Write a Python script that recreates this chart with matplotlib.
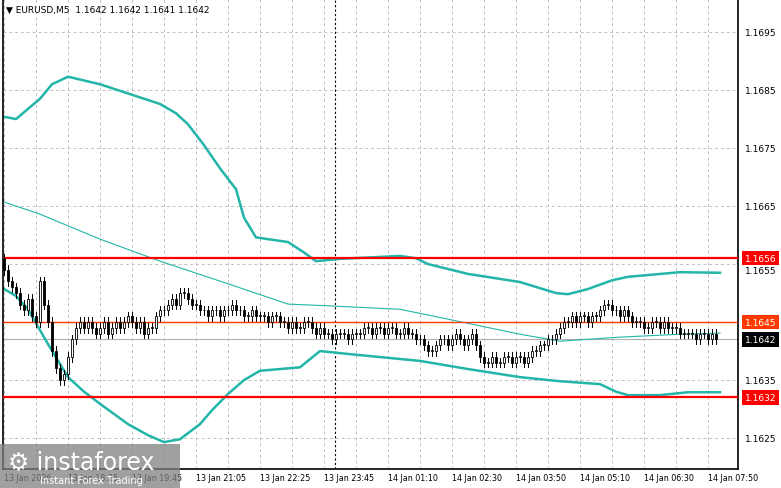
import matplotlib.pyplot as plt
from matplotlib.patches import Rectangle

# closes in pips above 1.1600, one per 5-minute bar (13 Jan 17:05 onward)
closes = [54, 52, 51,
          50, 48, 47, 49, 46, 45, 52,
          48, 45, 40, 37, 35, 36,
          39, 42, 44, 45,
          44, 45, 44, 43, 44, 45, 43, 44, 45, 44, 45, 46,
          45, 44, 45, 43, 44, 44,
          46, 47, 47, 48, 49, 48, 50, 50,
          49, 48, 48, 47, 47, 46, 47,
          47, 46, 47, 47, 48, 47, 47, 46, 46, 47, 46, 46,
          46, 45, 46, 46, 45, 45, 44, 45, 44, 44,
          45, 45, 44, 43, 44, 43, 43, 42,
          43, 43, 43, 42, 43, 43, 43,
          44, 44, 43, 44, 44, 43, 44, 44, 43, 43, 44, 43, 43, 42, 42,
          41, 40, 40, 41, 42,
          42, 41, 42, 43, 42, 41, 42, 43, 41,
          39, 38, 38, 39, 38, 38,
          39, 39, 38, 39, 39, 38, 39, 40, 40,
          41, 41, 42, 42, 43, 44,
          45, 45, 46, 45, 46, 46, 45, 46, 46,
          47, 48, 48, 47, 47, 46, 47, 46, 45,
          45, 45, 44, 44, 45, 45, 44, 45,
          44, 44, 44, 43, 43,
          43, 43, 42, 43, 43, 42, 43, 42]
first_open = 56

upper_idx = [0, 3, 9, 12, 16, 24, 39, 43, 46, 50, 54, 58, 60, 63, 71, 75, 78, 84, 99, 103, 106, 116,
             129, 138, 141, 146, 152, 156, 169, 179]
upper_val = [1.16804, 1.16800, 1.16835, 1.16860, 1.16873, 1.16860, 1.16826, 1.16810, 1.16791, 1.16755,
             1.16715, 1.16679, 1.16630, 1.16596, 1.16588, 1.16570, 1.16555, 1.16559, 1.16564, 1.16560,
             1.16550, 1.16533, 1.16519, 1.16500, 1.16498, 1.16507, 1.16522, 1.16528, 1.16536, 1.16535]
mid_idx = [0, 9, 24, 39, 56, 71, 81, 99, 111, 129, 139, 154, 169, 179]
mid_val = [1.16657, 1.16636, 1.16593, 1.16555, 1.16516, 1.16481, 1.16478, 1.16472, 1.16455,
           1.16429, 1.16417, 1.16424, 1.16429, 1.16431]
lower_idx = [0, 3, 6, 11, 16, 20, 24, 31, 36, 40, 44, 49, 52, 56, 60, 64, 74, 79, 86, 104, 116, 129,
             139, 149, 153, 156, 164, 171, 179]
lower_val = [1.16507, 1.16495, 1.16472, 1.16412, 1.16355, 1.16330, 1.16309, 1.16274, 1.16255, 1.16243,
             1.16248, 1.16274, 1.16298, 1.16326, 1.16350, 1.16366, 1.16372, 1.16400, 1.16395, 1.16383,
             1.16369, 1.16355, 1.16348, 1.16343, 1.16330, 1.16324, 1.16324, 1.16329, 1.16329]

level_lines = [(1.1656, '#ff0000', 1.6), (1.1645, '#ff3a00', 1.0), (1.1632, '#ff0000', 1.6)]
price_ticks = [1.1625, 1.1635, 1.1645, 1.1655, 1.1665, 1.1675, 1.1685, 1.1695]
time_ticks = [0, 16, 32, 48, 64, 80, 96, 112, 128, 144, 160, 176]
time_labels = ['13 Jan 2026', '13 Jan 18:25', '13 Jan 19:45', '13 Jan 21:05', '13 Jan 22:25',
               '13 Jan 23:45', '14 Jan 01:10', '14 Jan 02:30', '14 Jan 03:50', '14 Jan 05:10',
               '14 Jan 06:30', '14 Jan 07:50']

W, H = 781, 489
fig = plt.figure(figsize=(W / 100, H / 100), dpi=100)
ax = fig.add_axes([3 / W, 1 - 470 / H, 735 / W, 470 / H])
ymax = 1.17007
ymin = ymax - 470 / 58000
ax.set_ylim(ymin, ymax)
ax.set_xlim(-0.25, 183.5)

for g in range(0, 184, 8):
    ax.axvline(g, color='#c0c0c0', ls=(0, (3, 3)), lw=0.7, zorder=0)
for p in price_ticks:
    ax.axhline(p, color='#c0c0c0', ls=(0, (3, 3)), lw=0.7, zorder=0)

ax.axvline(82.8, color='black', ls=(0, (2, 2)), lw=0.8, zorder=1)

teal = '#22b5a8'
ax.plot(upper_idx, upper_val, color=teal, lw=1.8, zorder=2)
ax.plot(lower_idx, lower_val, color=teal, lw=1.8, zorder=2)
ax.plot(mid_idx, mid_val, color=teal, lw=0.8, zorder=2)

for p, c, lw in level_lines:
    ax.axhline(p, color=c, lw=lw, zorder=3)
ax.axhline(1.1642, color='#b0b0b0', lw=0.8, zorder=1)

prev = first_open
for i, c in enumerate(closes):
    o = 1.16 + prev / 1e4
    cl = 1.16 + c / 1e4
    lo, hi = min(o, cl) - 0.00008, max(o, cl) + 0.00008
    ax.plot([i, i], [lo, hi], color='black', lw=0.7, zorder=4)
    body = max(abs(cl - o), 0.000015)
    face = 'white' if cl >= o else 'black'
    ax.add_patch(Rectangle((i - 0.35, min(o, cl)), 0.7, body, facecolor=face,
                           edgecolor='black', lw=0.6, zorder=5))
    prev = c

ax.set_xticks([])
ax.set_yticks([])
for s in ['top', 'right']:
    ax.spines[s].set_visible(False)
for s in ['left', 'bottom']:
    ax.spines[s].set_color('black')
    ax.spines[s].set_linewidth(1.2)
ax.axvline(183.5, color='black', lw=1.2, clip_on=False)

def fy(p):
    return 1 - (ymax - p) * 58000 / H

for p in price_ticks:
    if p == 1.1655:
        y = fy(p) - 6 / H
    else:
        y = fy(p)
    fig.text(745 / W, y, f'{p:.4f}', fontsize=6.5, va='center')
for p, bg in [(1.1656, '#ff0000'), (1.1645, '#ff3a00'), (1.1642, '#000000'), (1.1632, '#ff0000')]:
    fig.text(745 / W, fy(p), f'{p:.4f}', fontsize=6.5, va='center', color='white',
             bbox=dict(boxstyle='square,pad=0.3', fc=bg, ec='none'))

for t, lab in zip(time_ticks, time_labels):
    x = (4 + t * 4) / W
    fig.text(x, 1 - 479 / H, lab, fontsize=5.8, va='center', ha='left')

fig.text(6 / W, 1 - 10 / H, '\u25bc EURUSD,M5  1.1642 1.1642 1.1641 1.1642', fontsize=6.5, va='center')

# watermark
fig.patches.append(Rectangle((0, 0), 180 / W, 44 / H, transform=fig.transFigure,
                             facecolor='#808080', alpha=0.75, edgecolor='none', zorder=10))
fig.text(8 / W, 1 - 462 / H, '\u2699 instaforex', fontsize=17, color='white', va='center', zorder=11)
fig.text(40 / W, 1 - 481 / H, 'Instant Forex Trading', fontsize=7, color='white', va='center', zorder=11)

fig.savefig('out.png', dpi=100, facecolor='white')
